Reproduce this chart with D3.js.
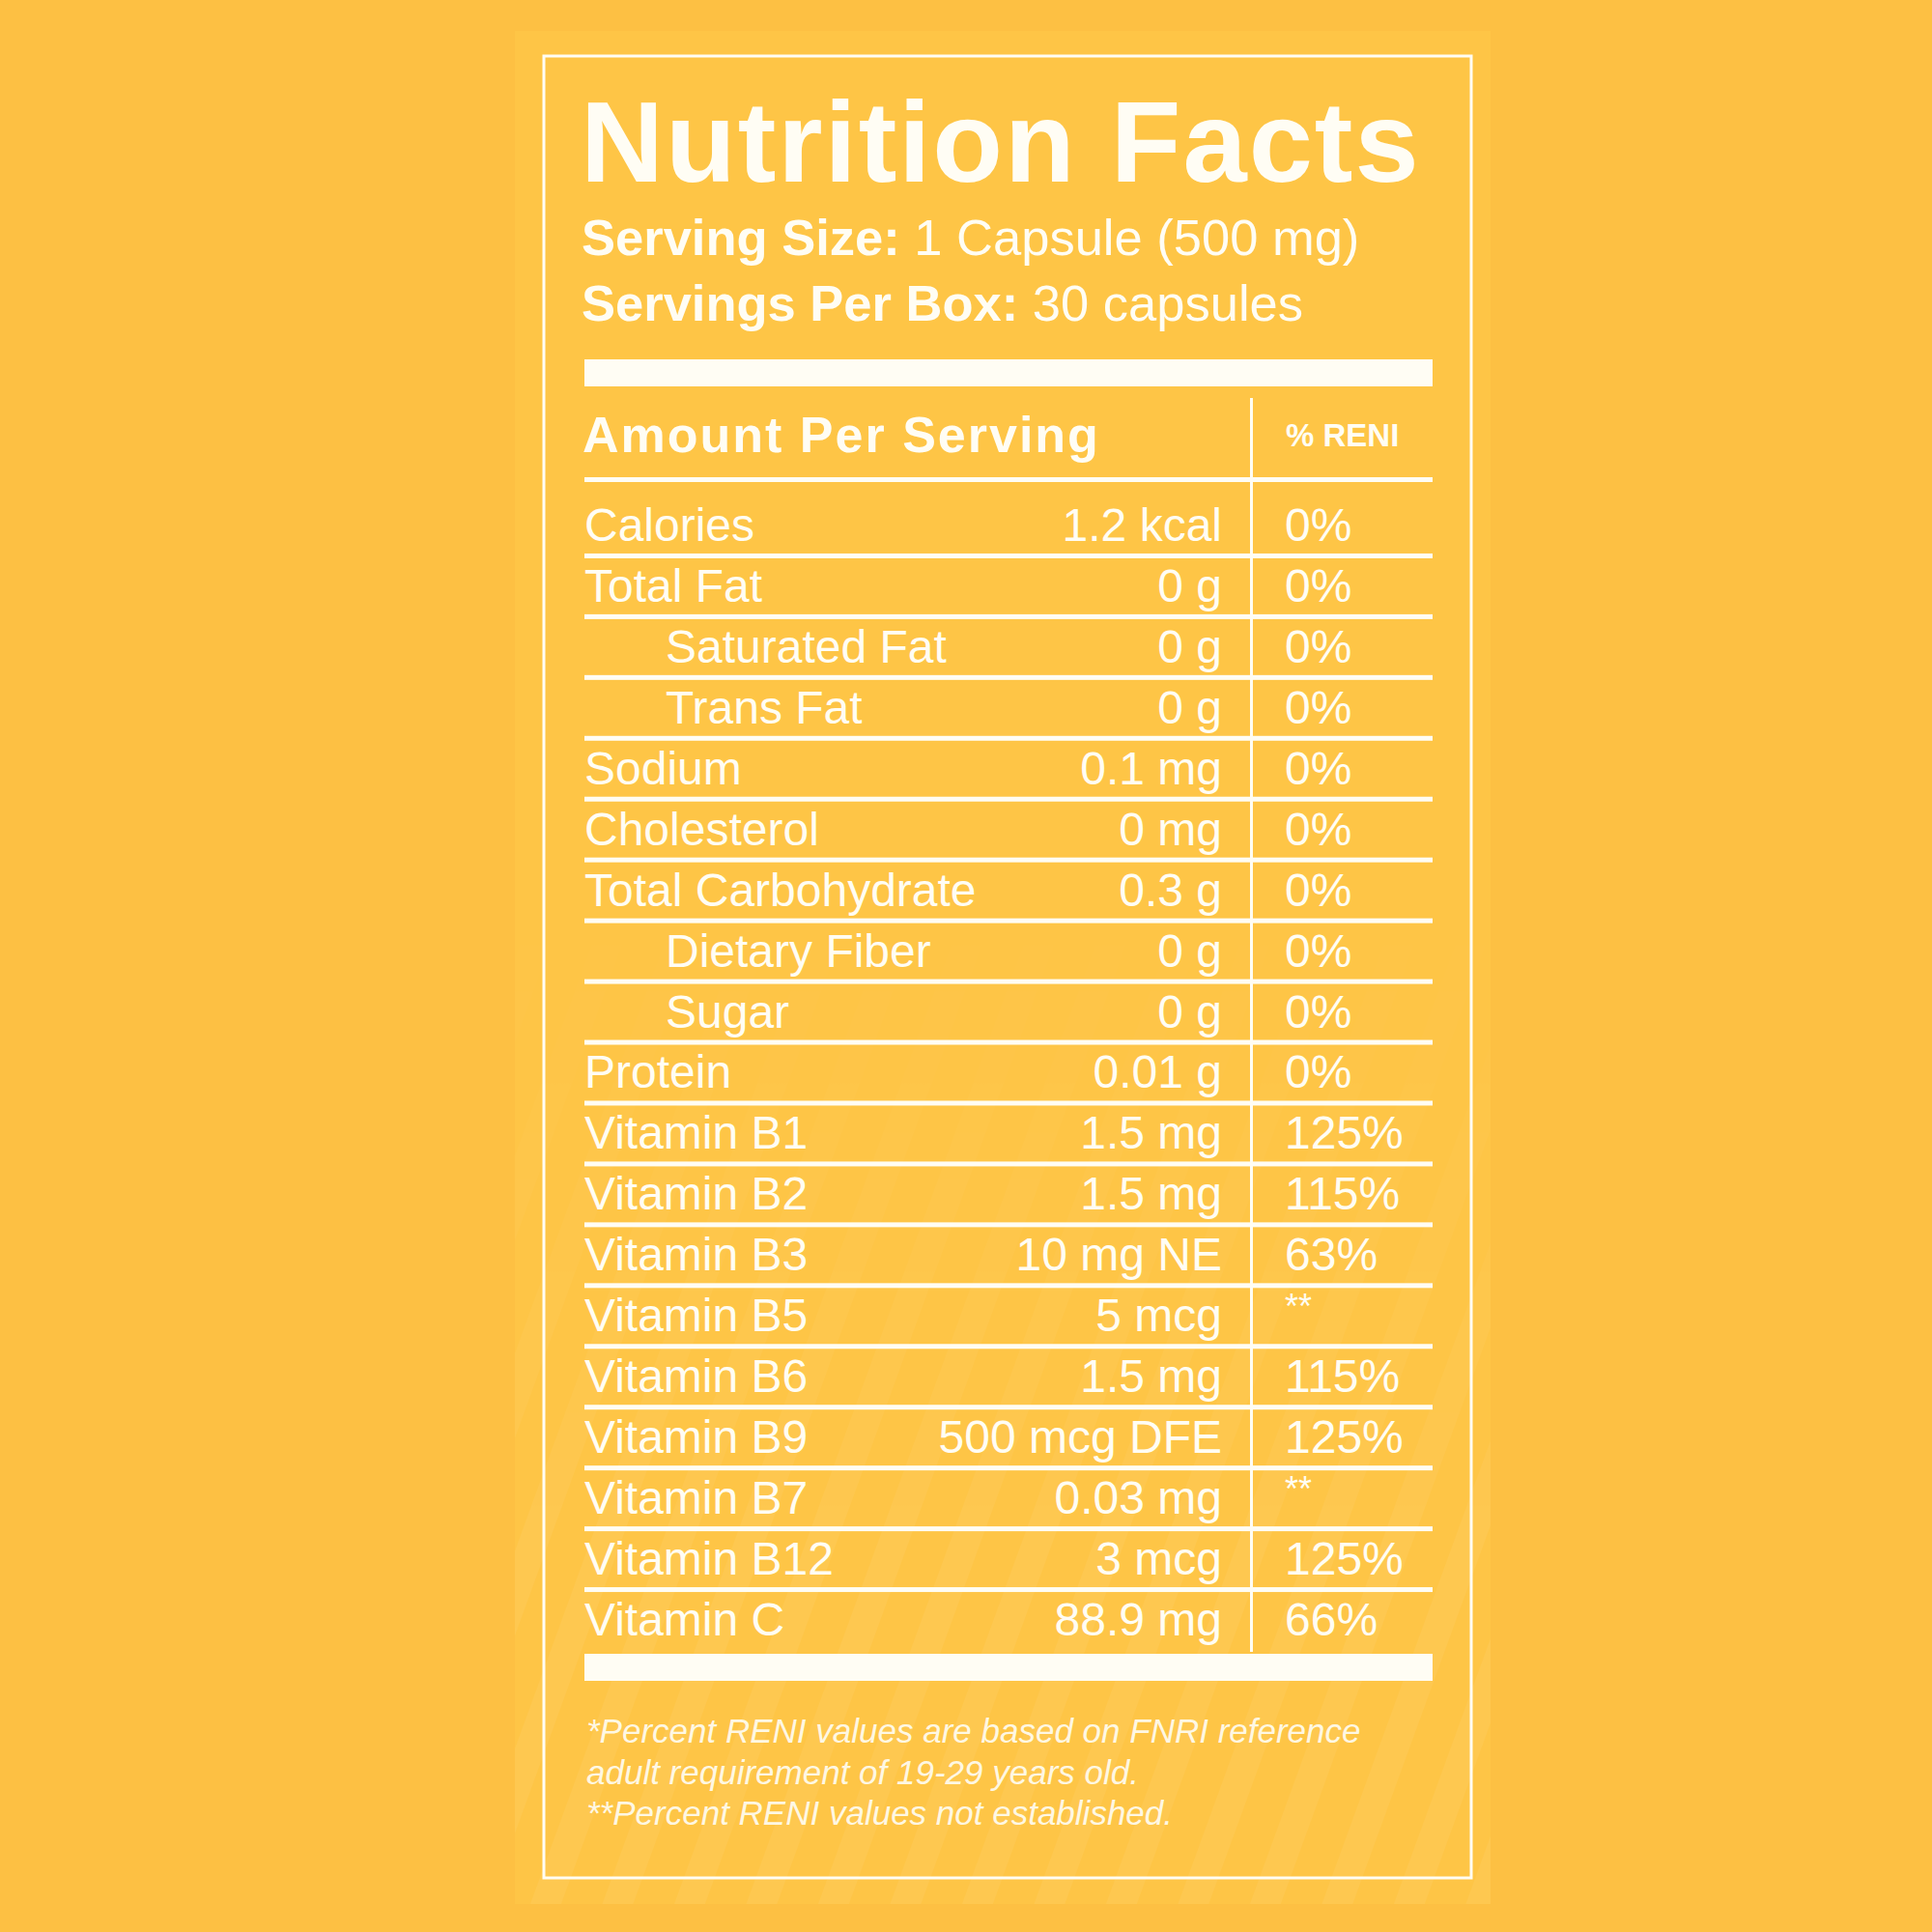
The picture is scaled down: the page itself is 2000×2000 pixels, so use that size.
<!DOCTYPE html>
<html>
<head>
<meta charset="utf-8">
<script src="https://cdn.jsdelivr.net/npm/d3@7"></script>
<style>
  html, body { margin: 0; padding: 0; background: #FDC043; }
  svg { display: block; }
  text { font-family: "Liberation Sans", Arial, Helvetica, sans-serif; fill: #FFFDF4; }
</style>
</head>
<body>
<svg id="chart" width="2000" height="2000"></svg>
<script>
// ---- data ----
const title = "Nutrition Facts";
const servingLabels = ["Serving Size:", "Servings Per Box:"];
const servingValues = [" 1 Capsule (500 mg)", " 30 capsules"];
const headerLeft = "Amount Per Serving";
const headerRight = "% RENI";
const nutrients = ["Calories", "Total Fat", "Saturated Fat", "Trans Fat", "Sodium", "Cholesterol",
  "Total Carbohydrate", "Dietary Fiber", "Sugar", "Protein", "Vitamin B1", "Vitamin B2",
  "Vitamin B3", "Vitamin B5", "Vitamin B6", "Vitamin B9", "Vitamin B7", "Vitamin B12", "Vitamin C"];
const amounts = ["1.2 kcal", "0 g", "0 g", "0 g", "0.1 mg", "0 mg", "0.3 g", "0 g", "0 g", "0.01 g",
  "1.5 mg", "1.5 mg", "10 mg NE", "5 mcg", "1.5 mg", "500 mcg DFE", "0.03 mg", "3 mcg", "88.9 mg"];
const percents = ["0%", "0%", "0%", "0%", "0%", "0%", "0%", "0%", "0%", "0%",
  "125%", "115%", "63%", "**", "115%", "125%", "**", "125%", "66%"];
const subItems = ["Saturated Fat", "Trans Fat", "Dietary Fiber", "Sugar"];
const footnotes = ["*Percent RENI values are based on FNRI reference",
  "adult requirement of 19-29 years old.",
  "**Percent RENI values not established."];

// ---- drawing ----
const svg = d3.select("#chart");
const W = 2000, H = 2000;
const white = "#FFFDF4";

svg.append("rect").attr("width", W).attr("height", H).attr("fill", "#FDC043");

// panel
const defs = svg.append("defs");
const pat = defs.append("pattern").attr("id", "stripes").attr("patternUnits", "userSpaceOnUse")
  .attr("width", 70).attr("height", 70).attr("patternTransform", "rotate(20)");
pat.append("rect").attr("width", 30).attr("height", 70).attr("fill", "#FFFFFF").attr("opacity", 0.055);
const grad = defs.append("linearGradient").attr("id", "fade").attr("x1", 0).attr("y1", 0).attr("x2", 0).attr("y2", 1);
grad.append("stop").attr("offset", "0.45").attr("stop-color", "#fff").attr("stop-opacity", 0);
grad.append("stop").attr("offset", "0.8").attr("stop-color", "#fff").attr("stop-opacity", 1);
const mask = defs.append("mask").attr("id", "fadeMask");
mask.append("rect").attr("x", 533).attr("y", 32).attr("width", 1010).attr("height", 1939).attr("fill", "url(#fade)");

svg.append("rect").attr("x", 533).attr("y", 32).attr("width", 1010).attr("height", 1939).attr("fill", "#FEC546");
svg.append("rect").attr("x", 533).attr("y", 32).attr("width", 1010).attr("height", 1939)
  .attr("fill", "url(#stripes)").attr("mask", "url(#fadeMask)");

// border
svg.append("rect").attr("x", 563).attr("y", 58).attr("width", 960).attr("height", 1886)
  .attr("fill", "none").attr("stroke", white).attr("stroke-width", 3);

const x0 = 605, x1 = 1483;

// title
svg.append("text").attr("x", 601).attr("y", 188).attr("font-size", 119).attr("font-weight", "bold")
  .attr("letter-spacing", 2).text(title);

// serving lines
const servY = d3.scalePoint().domain(servingLabels).range([264, 332]);
servingLabels.forEach((lab, i) => {
  const t = svg.append("text").attr("x", 602).attr("y", servY(lab)).attr("font-size", 52.5);
  t.append("tspan").attr("font-weight", "bold").text(lab);
  t.append("tspan").text(servingValues[i]);
});

// thick bars
svg.append("rect").attr("x", x0).attr("y", 372).attr("width", x1 - x0).attr("height", 28).attr("fill", white);
svg.append("rect").attr("x", x0).attr("y", 1712).attr("width", x1 - x0).attr("height", 28).attr("fill", white);

// header
svg.append("text").attr("x", 603).attr("y", 468).attr("font-size", 52).attr("font-weight", "bold")
  .attr("letter-spacing", 2).text(headerLeft);
svg.append("text").attr("x", 1331).attr("y", 462).attr("font-size", 33).attr("font-weight", "bold")
  .text(headerRight);
svg.append("rect").attr("x", x0).attr("y", 494).attr("width", x1 - x0).attr("height", 5).attr("fill", white);

// vertical divider
svg.append("rect").attr("x", 1294).attr("y", 412).attr("width", 3).attr("height", 1298).attr("fill", white);

// rows
const y = d3.scaleBand().domain(nutrients).range([512, 1708]).padding(0);
const rows = svg.append("g").selectAll("g").data(nutrients).join("g")
  .attr("transform", d => `translate(0,${y(d) + y.bandwidth()})`);

rows.filter((d, i) => i < nutrients.length - 1).append("rect")
  .attr("x", x0).attr("y", -2).attr("width", x1 - x0).attr("height", 5).attr("fill", white);

rows.append("text").attr("x", d => subItems.includes(d) ? 689 : 605).attr("y", -15)
  .attr("font-size", 48).text(d => d);
rows.append("text").attr("x", 1265).attr("y", -15).attr("text-anchor", "end")
  .attr("font-size", 48).text((d, i) => amounts[i]);
rows.append("text").attr("x", 1330).attr("y", (d, i) => percents[i] === "**" ? -28 : -15)
  .attr("font-size", (d, i) => percents[i] === "**" ? 36 : 48).text((d, i) => percents[i]);

// footnotes
const fy = d3.scalePoint().domain(d3.range(footnotes.length)).range([1804, 1889]);
svg.append("g").selectAll("text").data(footnotes).join("text")
  .attr("x", 607).attr("y", (d, i) => fy(i)).attr("font-size", 35).attr("font-style", "italic")
  .attr("fill-opacity", 0.92).text(d => d);
</script>
</body>
</html>
